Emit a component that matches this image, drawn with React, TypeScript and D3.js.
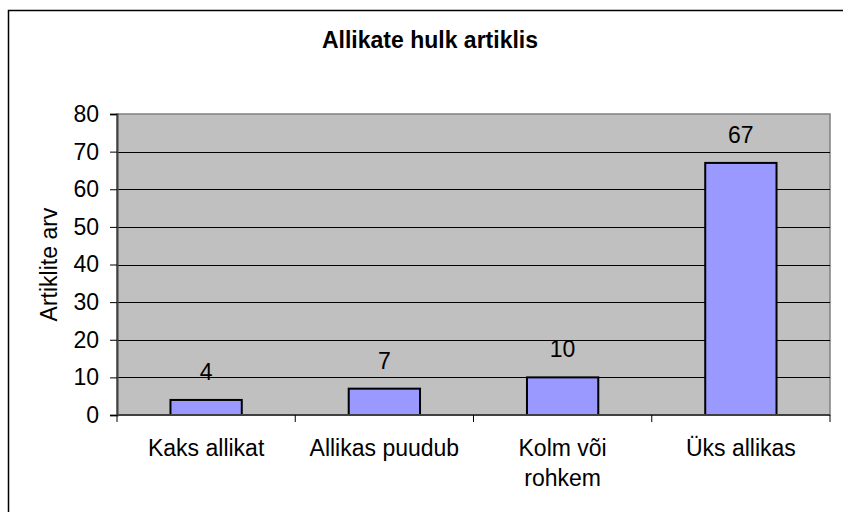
import React, { useRef, useEffect } from 'react';
import * as d3 from 'd3';

const categories = ['Kaks allikat', 'Allikas puudub', 'Kolm või rohkem', 'Üks allikas'];
const categoryLines = [['Kaks allikat'], ['Allikas puudub'], ['Kolm või', 'rohkem'], ['Üks allikas']];
const values = [4, 7, 10, 67];
const yTicks = [0, 10, 20, 30, 40, 50, 60, 70, 80];
const title = 'Allikate hulk artiklis';
const yLabel = 'Artiklite arv';

const W = 843;
const H = 512;
const plot = { left: 117, right: 830, top: 114, bottom: 415 };
const font = 'Liberation Sans, Arial, sans-serif';
const fs = 23;

const App = () => {
    const svgRef = useRef<SVGSVGElement | null>(null);

    useEffect(() => {
        const svg = d3.select(svgRef.current);
        svg.selectAll('*').remove();

        // raam ümber kogu pildi
        svg.append('rect')
            .attr('x', 8.5).attr('y', 10.5)
            .attr('width', 900).attr('height', 600)
            .attr('fill', 'white').attr('stroke', 'black').attr('stroke-width', 1.5);

        const x = d3.scaleBand<string>()
            .domain(categories)
            .range([plot.left, plot.right])
            .paddingInner(0.6).paddingOuter(0.3);
        const xOuter = d3.scaleBand<string>()
            .domain(categories)
            .range([plot.left, plot.right]);
        const y = d3.scaleLinear().domain([0, 80]).range([plot.bottom, plot.top]);

        // hall taust
        svg.append('rect')
            .attr('x', plot.left).attr('y', plot.top)
            .attr('width', plot.right - plot.left).attr('height', plot.bottom - plot.top)
            .attr('fill', '#c0c0c0').attr('stroke', '#808080').attr('stroke-width', 1.5);

        // ruudustik
        svg.append('g')
            .selectAll('line')
            .data(yTicks.filter(t => t > 0 && t < 80))
            .join('line')
            .attr('x1', plot.left).attr('x2', plot.right)
            .attr('y1', d => Math.round(y(d)) + 0.5).attr('y2', d => Math.round(y(d)) + 0.5)
            .attr('stroke', 'black').attr('stroke-width', 1);

        // tulbad
        svg.append('g')
            .selectAll('rect')
            .data(values)
            .join('rect')
            .attr('x', (d, i) => x(categories[i])!)
            .attr('y', d => y(d))
            .attr('width', x.bandwidth())
            .attr('height', d => y(0) - y(d))
            .attr('fill', '#9999ff').attr('stroke', 'black').attr('stroke-width', 2);

        // väärtused
        svg.append('g')
            .selectAll('text')
            .data(values)
            .join('text')
            .attr('x', (d, i) => x(categories[i])! + x.bandwidth() / 2)
            .attr('y', d => y(d) - 20)
            .attr('text-anchor', 'middle')
            .attr('font-family', font).attr('font-size', fs)
            .text(d => d);

        // y telg
        const yAxis = d3.axisLeft(y).tickValues(yTicks).tickSize(7).tickPadding(11);
        const gy = svg.append('g').attr('transform', `translate(${plot.left},0)`).call(yAxis);
        gy.select('.domain').attr('stroke', '#404040').attr('stroke-width', 2);
        gy.selectAll('.tick line').attr('stroke', 'black');
        gy.selectAll('.tick text').attr('font-family', font).attr('font-size', fs).attr('fill', 'black');

        // x telg
        svg.append('line')
            .attr('x1', plot.left).attr('x2', plot.right)
            .attr('y1', plot.bottom).attr('y2', plot.bottom)
            .attr('stroke', '#404040').attr('stroke-width', 2);
        const bounds = [...categories.map(c => xOuter(c)!), plot.right];
        svg.append('g')
            .selectAll('line')
            .data(bounds)
            .join('line')
            .attr('x1', d => d).attr('x2', d => d)
            .attr('y1', plot.bottom).attr('y2', plot.bottom + 7)
            .attr('stroke', 'black');

        const labels = svg.append('g')
            .selectAll('text')
            .data(categoryLines)
            .join('text')
            .attr('x', (d, i) => xOuter(categories[i])! + xOuter.bandwidth() / 2)
            .attr('y', 456)
            .attr('text-anchor', 'middle')
            .attr('font-family', font).attr('font-size', fs);
        labels.selectAll('tspan')
            .data((d, i) => d.map(line => ({ line, i })))
            .join('tspan')
            .attr('x', d => xOuter(categories[d.i])! + xOuter.bandwidth() / 2)
            .attr('dy', (d, j) => (j === 0 ? 0 : 30))
            .text(d => d.line);

        // pealkiri
        svg.append('text')
            .attr('x', 430).attr('y', 48)
            .attr('text-anchor', 'middle')
            .attr('font-family', font).attr('font-size', fs).attr('font-weight', 'bold')
            .text(title);

        // y telje nimi
        svg.append('text')
            .attr('transform', `translate(57,${(plot.top + plot.bottom) / 2}) rotate(-90)`)
            .attr('text-anchor', 'middle')
            .attr('font-family', font).attr('font-size', fs)
            .text(yLabel);
    }, []);

    return (
        <svg
            ref={svgRef}
            width={W}
            height={H}
            style={{ position: 'absolute', left: 0, top: 0, background: 'white' }}
        />
    );
};

export default App;
